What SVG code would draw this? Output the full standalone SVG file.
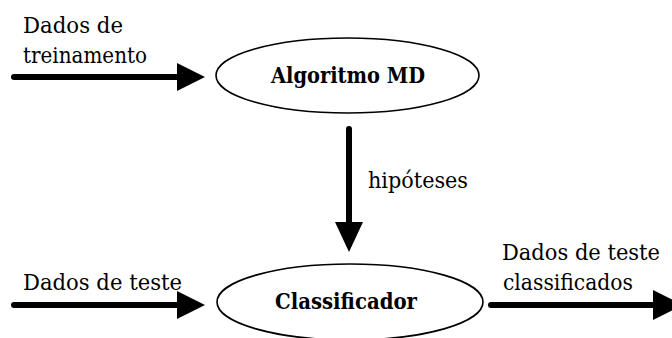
<svg xmlns="http://www.w3.org/2000/svg" width="672" height="338" viewBox="0 0 672 338">
<style>
text{fill:#000;font-family:'DejaVu Serif','Liberation Serif',serif}
.lbl{font-size:22px}
.nd{font-size:22px;font-weight:bold}
.ell{fill:#fff;stroke:#000;stroke-width:1.6}
.ln{stroke:#000;stroke-width:6;stroke-linecap:round;fill:none}
.hd{fill:#000}
</style>
<rect width="672" height="338" fill="#fff"/>
<g id="connectors">
<line class="ln" x1="14" y1="77" x2="180" y2="77"/>
<polygon class="hd" points="177,63 205,77 177,91"/>
<line class="ln" x1="349" y1="129" x2="349" y2="225"/>
<polygon class="hd" points="335,222 363,222 349,252"/>
<line class="ln" x1="14" y1="305" x2="180" y2="305"/>
<polygon class="hd" points="177,291 205,305 177,319"/>
<line class="ln" x1="491" y1="305" x2="656" y2="305"/>
<polygon class="hd" points="653,290 683,305 653,320"/>
<text class="lbl" x="23" y="33" textLength="100" lengthAdjust="spacingAndGlyphs">Dados de</text>
<text class="lbl" x="23" y="63" textLength="124" lengthAdjust="spacingAndGlyphs">treinamento</text>
<text class="lbl" x="368" y="188" textLength="100" lengthAdjust="spacingAndGlyphs">hipóteses</text>
<text class="lbl" x="23" y="290" textLength="159" lengthAdjust="spacingAndGlyphs">Dados de teste</text>
<text class="lbl" x="502" y="260" textLength="158" lengthAdjust="spacingAndGlyphs">Dados de teste</text>
<text class="lbl" x="503" y="290" textLength="130" lengthAdjust="spacingAndGlyphs">classificados</text>
</g>
<g id="node-algoritmo">
<ellipse class="ell" cx="347.5" cy="75.5" rx="131.5" ry="37.5"/>
<text class="nd" x="271" y="83" textLength="154" lengthAdjust="spacingAndGlyphs">Algoritmo MD</text>
</g>
<g id="node-classificador">
<ellipse class="ell" cx="350" cy="302" rx="133" ry="38"/>
<text class="nd" x="275" y="309" textLength="142" lengthAdjust="spacingAndGlyphs">Classificador</text>
</g>
</svg>
